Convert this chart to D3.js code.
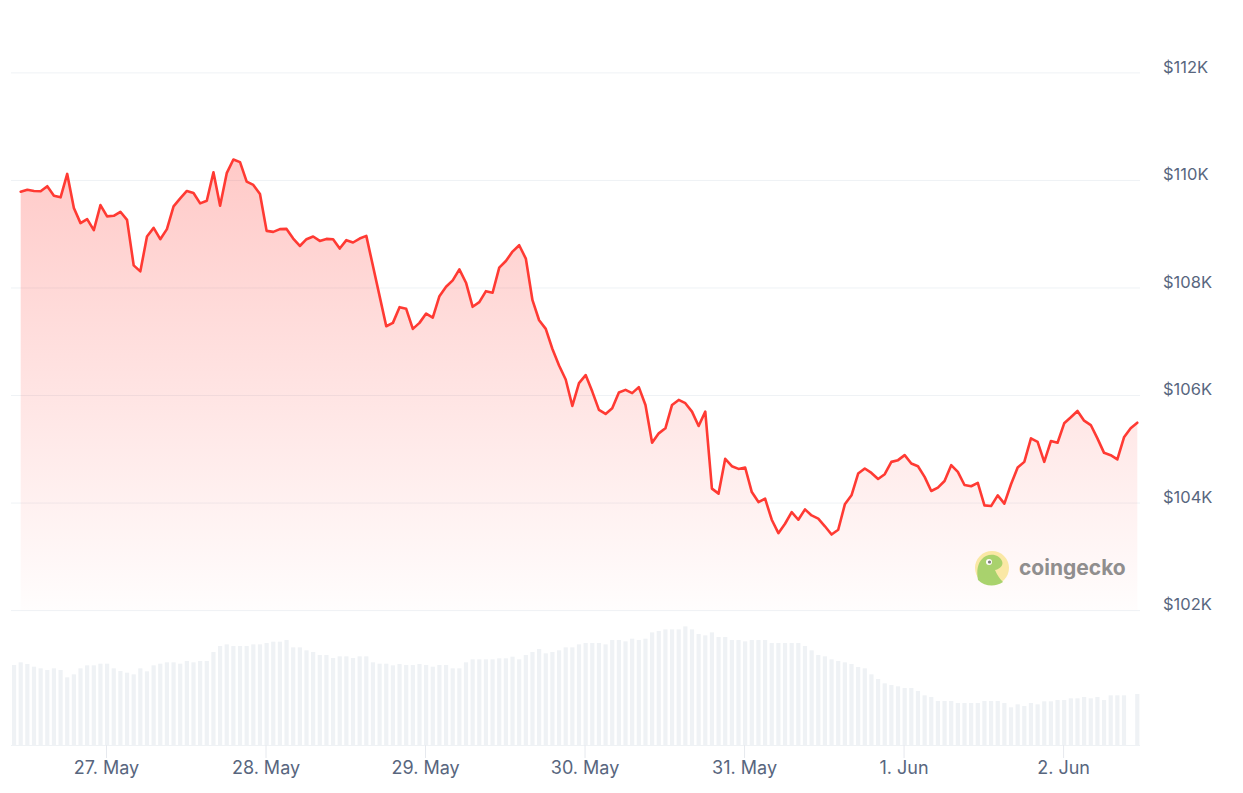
<!DOCTYPE html>
<html><head><meta charset="utf-8">
<script src="https://cdn.jsdelivr.net/npm/d3@7"></script>
<style>
html,body{margin:0;padding:0;background:#fff;}
svg{display:block;font-family:Inter,"Noto Sans",sans-serif;}
</style></head><body>
<svg id="chart" width="1243" height="793"></svg>
<script>
// hourly BTC price, first point 26 May 11:10 UTC
const startTime = Date.UTC(2025, 4, 26, 11, 10);
const prices = [
109791,109828,109804,109798,109892,109716,109686,110121,109486,109206,
109280,109075,109542,109331,109342,109417,109267,108421,108309,108957,
109118,108907,109094,109518,109667,109804,109766,109574,109622,110153,
109529,110135,110389,110340,109978,109916,109748,109062,109043,109094,
109099,108920,108781,
108907,108958,108875,108913,108907,108733,108889,108846,108920,108969,
108408,107848,107288,107351,107643,107613,107239,107351,107525,107450,
107848,108024,108141,108347,108098,107650,107736,107941,107912,108379,
108502,108677,108795,108547,107773,107400,107239,106865,106559,106298,
105806,106230,106380,106073,105732,105657,105763,106055,106105,106044,
106156,105825,105121,105296,105390,105825,105918,105857,105700,105433,
105700,104269,104176,104822,104685,104635,104661,104205,104019,104082,
103690,103440,103615,103832,103690,103882,103770,103710,103568,103415,
103503,103976,104144,104549,104643,104560,104448,104536,104766,104798,
104891,104736,104685,104486,104224,104288,104411,104704,104579,104336,
104312,104374,103957,103944,104144,103989,104349,104661,104766,105203,
105139,104766,105153,105121,105483,105595,105713,105532,105451,105203,
104934,104891,104811,105222,105390,105494
];
// hourly 24h volume (billion USD), first bar one hour before first price
const volumes = [
24.0,24.8,24.3,23.5,23.0,22.5,23.0,22.5,20.3,21.2,
23.0,23.9,23.9,24.4,24.4,23.0,22.2,21.7,21.2,23.0,
22.1,23.9,24.4,24.8,24.8,24.4,25.2,24.8,25.2,25.2,
27.9,29.7,30.2,29.7,29.7,29.7,30.2,30.2,30.6,31.0,
31.0,31.5,29.3,29.3,28.4,27.9,27.0,27.0,26.1,26.6,
26.6,26.1,26.6,26.6,24.8,24.4,24.4,23.9,24.3,24.0,
24.0,24.3,24.0,23.5,24.0,24.0,23.0,23.0,24.8,25.7,
25.7,25.7,25.7,26.0,26.0,26.5,25.7,27.0,27.9,28.8,
27.5,27.9,28.4,29.3,29.3,30.2,30.6,30.6,30.6,30.2,
31.5,31.5,31.1,31.9,31.5,31.9,33.8,34.2,34.7,34.7,
34.7,35.6,34.7,33.3,32.9,33.8,32.4,32.4,31.5,31.5,
31.1,31.5,31.5,31.5,30.6,30.6,30.6,30.6,30.6,29.7,
28.4,27.0,26.6,25.7,25.2,24.8,24.3,23.4,23.0,21.2,
19.8,18.5,18.0,17.6,17.1,17.1,16.2,14.9,14.4,13.2,
13.2,13.2,12.6,12.6,12.6,12.6,13.2,13.2,13.2,12.6,
11.3,12.2,11.7,12.6,12.2,13.1,13.1,13.5,13.5,14.0,
14.0,14.4,14.0,14.4,13.5,14.9,14.9,14.9,0,15.3
];
const priceTicks = [102000,104000,106000,108000,110000,112000];
const dayTicks = ["2025-05-27","2025-05-28","2025-05-29","2025-05-30","2025-05-31","2025-06-01","2025-06-02"];

const H = 3600e3;
const priceData = prices.map((p,i)=>({t:new Date(startTime+i*H), v:p}));
const volData = volumes.map((v,i)=>({t:new Date(startTime+(i-1)*H), v:v}));

const svg = d3.select("#chart");
const x = d3.scaleUtc()
  .domain([priceData[0].t, priceData[priceData.length-1].t])
  .range([20.7, 1137.3]);
const y = d3.scaleLinear().domain([102000,112000]).range([610.6,72.9]);
const vy = d3.scaleLinear().domain([0,40]).range([745,611.7]);

const defs = svg.append("defs");
const grad = defs.append("linearGradient").attr("id","fillGrad")
  .attr("gradientUnits","userSpaceOnUse").attr("x1",0).attr("x2",0).attr("y1",160).attr("y2",y(102000));
grad.append("stop").attr("offset",0).attr("stop-color","#ff3a33").attr("stop-opacity",0.27);
grad.append("stop").attr("offset",1).attr("stop-color","#ff3a33").attr("stop-opacity",0.01);

// grid lines
svg.append("g").selectAll("line").data(priceTicks).join("line")
  .attr("x1",11).attr("x2",1140).attr("y1",d=>y(d)).attr("y2",d=>y(d))
  .attr("stroke","#eff2f5").attr("stroke-width",1);

// volume bars
svg.append("g").selectAll("rect").data(volData.filter(d=>d.v>0)).join("rect")
  .attr("x",d=>x(d.t)-2.1).attr("width",4.2)
  .attr("y",d=>vy(d.v)).attr("height",d=>vy(0)-vy(d.v))
  .attr("fill","#eff2f5");

// base line of volume
svg.append("line").attr("x1",11).attr("x2",1140).attr("y1",745.5).attr("y2",745.5)
  .attr("stroke","#eff2f5").attr("stroke-width",1);

// area & line
const area = d3.area().x(d=>x(d.t)).y0(y(102000)).y1(d=>y(d.v));
svg.append("path").datum(priceData).attr("d",area).attr("fill","url(#fillGrad)");
const line = d3.line().x(d=>x(d.t)).y(d=>y(d.v));
svg.append("path").datum(priceData).attr("d",line)
  .attr("fill","none").attr("stroke","#ff3a33").attr("stroke-width",2.6)
  .attr("stroke-linejoin","round").attr("stroke-linecap","round");

// x axis
const xAxis = d3.axisBottom(x)
  .tickValues(dayTicks.map(d=>new Date(d+"T00:00:00Z")))
  .tickFormat(d3.utcFormat("%-d. %b"))
  .tickSize(13).tickPadding(3.5);
const gx = svg.append("g").attr("transform","translate(0,745)").call(xAxis);
gx.select(".domain").remove();
gx.selectAll(".tick line").attr("stroke","#e6e9ee");
gx.selectAll(".tick text").attr("fill","#58667e").attr("font-size",18)
  .attr("font-family","Inter,'Noto Sans',sans-serif");

// y axis (right)
const yAxis = d3.axisRight(y).tickValues(priceTicks)
  .tickFormat(d=>"$"+(d/1000)+"K").tickSize(0).tickPadding(0);
const gy = svg.append("g").attr("transform","translate(1163,0)").call(yAxis);
gy.select(".domain").remove();
gy.selectAll(".tick text").attr("fill","#58667e").attr("font-size",16.5)
  .attr("dy","-0.04em").attr("font-family","Inter,'Noto Sans',sans-serif");

// coingecko watermark
const logo = svg.append("g").attr("opacity",0.75);
logo.append("circle").attr("cx",992).attr("cy",568).attr("r",17).attr("fill","#f9e38a");
logo.append("path")
  .attr("d","M978,580 C976,570 978,560 986,556 C993,553 1000,556 1002,561 C1004,566 999,569 995,570 C997,575 1001,580 1003,582 C996,587 985,587 978,580 Z")
  .attr("fill","#8dc63f");
logo.append("circle").attr("cx",989).attr("cy",562).attr("r",3).attr("fill","#fff");
logo.append("circle").attr("cx",989.5).attr("cy",562).attr("r",1.6).attr("fill","#555");
logo.append("text").attr("x",1019).attr("y",575).text("coingecko")
  .attr("font-size",21).attr("font-weight",700).attr("fill","#6b6b6b")
  .attr("font-family","Inter,'Noto Sans',sans-serif");
</script>
</body></html>
